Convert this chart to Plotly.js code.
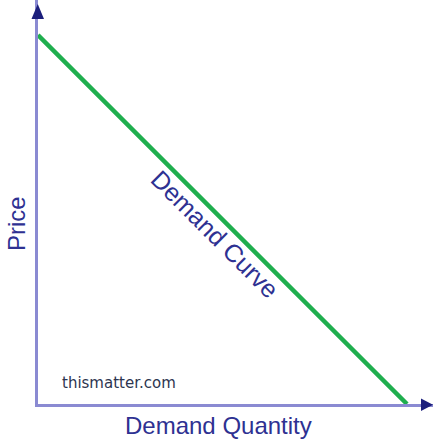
<!DOCTYPE html>
<html>
<head>
<meta charset="utf-8">
<script src="https://cdn.plot.ly/plotly-3.0.1.min.js"></script>
<style>html,body{margin:0;padding:0;background:#fff;}#chart{width:433px;height:444px;}</style>
</head>
<body>
<div id="chart"></div>
<script>
// Data
const quantity = [0, 10];
const price = [10, 0];
const curveLabel = "Demand Curve";
const xTitle = "Demand Quantity";
const yTitle = "Price";
const sourceText = "thismatter.com";

const xMax = 10.705;
const yMax = 10.95;

const navy = "#1c1f7c";
const textBlue = "#2e3192";
const axisCol = "#8a8ad2";
const green = "#1fae4e";

const traces = [
  {
    x: quantity, y: price, type: "scatter", mode: "lines",
    line: {color: green, width: 4.5}, hoverinfo: "skip", showlegend: false
  }
];

const plotW = 433 - 38, plotH = 444 - 40;
function px(xp) { return (xp - 38) / plotW; }
function py(yp) { return (404 - yp) / plotH; }
function tri(pts) {
  return "M " + pts.map(p => px(p[0]) + " " + py(p[1])).join(" L ") + " Z";
}

const layout = {
  width: 433, height: 444,
  margin: {l: 38, r: 0, t: 0, b: 40},
  paper_bgcolor: "#ffffff", plot_bgcolor: "#ffffff",
  font: {family: "Liberation Sans, Arial, sans-serif"},
  xaxis: {
    range: [0, xMax], showgrid: false, zeroline: false, showticklabels: false, ticks: "",
    showline: true, linecolor: axisCol, linewidth: 3, fixedrange: true
  },
  yaxis: {
    range: [0, yMax], showgrid: false, zeroline: false, showticklabels: false, ticks: "",
    showline: true, linecolor: axisCol, linewidth: 3, fixedrange: true
  },
  shapes: [
    {
      type: "path", xref: "paper", yref: "paper",
      path: tri([[31.5, 19], [44, 19], [37.75, 4]]),
      fillcolor: navy, line: {width: 0}, layer: "above"
    },
    {
      type: "path", xref: "paper", yref: "paper",
      path: tri([[421, 398.5], [421, 411], [433, 404.75]]),
      fillcolor: navy, line: {width: 0}, layer: "above"
    }
  ],
  annotations: [
    {
      x: 4.74, y: 5.26, xref: "x", yref: "y", text: curveLabel, showarrow: false,
      textangle: 45, xshift: 2, yshift: -24, xanchor: "center", yanchor: "middle",
      font: {size: 25, color: textBlue, family: "Liberation Sans, Arial, sans-serif"}
    },
    {
      x: px(218), y: py(425), xref: "paper", yref: "paper", text: xTitle, showarrow: false,
      xanchor: "center", yanchor: "middle", font: {size: 24, color: textBlue}
    },
    {
      x: px(16), y: py(224), xref: "paper", yref: "paper", text: yTitle, showarrow: false,
      xanchor: "center", yanchor: "middle", textangle: -90, font: {size: 24, color: textBlue}
    },
    {
      x: px(119), y: py(383), xref: "paper", yref: "paper", text: sourceText, showarrow: false,
      xanchor: "center", yanchor: "middle",
      font: {size: 15, color: "#2d3550", family: "DejaVu Sans, Verdana, sans-serif"}
    }
  ]
};

Plotly.newPlot("chart", traces, layout, {displayModeBar: false, staticPlot: true});
</script>
</body>
</html>
